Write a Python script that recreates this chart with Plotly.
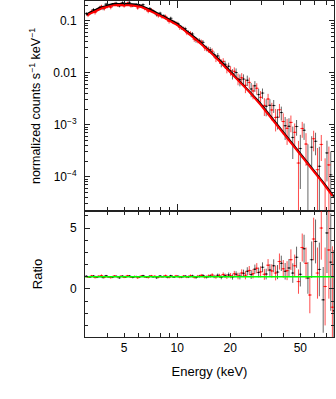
#  Plotly
import plotly.graph_objects as go
from   plotly.subplots     import make_subplots


#  FPMA bin centres (keV)
energy_a = [ 3.05, 3.2, 3.35, 3.5, 3.65, 3.8, 3.95, 4.1, 4.3, 4.5,
             4.7, 4.9, 5.1, 5.35, 5.6, 5.85, 6.1, 6.4, 6.7, 7.0,
             7.3, 7.65, 8.0, 8.4, 8.8, 9.2, 9.6, 10.1, 10.6, 11.1,
             11.6, 12.2, 12.8, 13.4, 14.0, 14.7, 15.4, 16.2, 17.0, 17.8,
             18.7, 19.6, 20.6, 21.6, 22.7, 23.8, 25.0, 26.3, 27.6, 29.0,
             30.5, 32.0, 33.6, 35.3, 37.1, 39.0, 41.0, 43.1, 45.3, 47.6,
             50.0, 52.5, 55.2, 58.0, 61.0, 64.1, 67.4, 70.8, 74.4, 77.5 ]

#  FPMB bin centres (keV)
energy_b = [ 3.12, 3.27, 3.42, 3.57, 3.72, 3.87, 4.02, 4.2, 4.4, 4.6,
             4.8, 5.0, 5.22, 5.47, 5.72, 5.97, 6.25, 6.55, 6.85, 7.15,
             7.47, 7.82, 8.2, 8.6, 9.0, 9.4, 9.85, 10.35, 10.85, 11.35,
             11.9, 12.5, 13.1, 13.7, 14.35, 15.05, 15.8, 16.6, 17.4, 18.25,
             19.15, 20.1, 21.1, 22.15, 23.25, 24.4, 25.65, 26.95, 28.3, 29.75,
             31.25, 32.8, 34.45, 36.2, 38.05, 40.0, 42.05, 44.2, 46.45, 48.8,
             51.25, 53.85, 56.6, 59.5, 62.55, 65.75, 69.1, 72.6, 76.0 ]

#  Folded model for FPMA (counts s^-1 keV^-1)
model_a = [ 0.132, 0.1435, 0.155, 0.167, 0.1775, 0.185, 0.193, 0.201, 0.2095, 0.211,
            0.212, 0.213, 0.214, 0.211, 0.207, 0.204, 0.200, 0.187, 0.176, 0.165,
            0.154, 0.142, 0.132, 0.1216, 0.1125, 0.1033, 0.0948, 0.0853, 0.0758, 0.0670,
            0.0596, 0.0520, 0.0455, 0.0397, 0.0349, 0.0303, 0.0261, 0.0220, 0.0188, 0.0161,
            0.0135, 0.01156, 0.00975, 0.00834, 0.00701, 0.00589, 0.00494, 0.00412, 0.00345, 0.00281,
            0.00228, 0.00186, 0.00152, 0.00123, 0.00101, 8.16e-4, 6.61e-4, 5.41e-4, 4.38e-4, 3.55e-4,
            2.90e-4, 2.37e-4, 1.91e-4, 1.54e-4, 1.23e-4, 9.9e-5, 7.8e-5, 6.24e-5, 4.94e-5, 4.12e-5 ]

#  Folded model for FPMB (counts s^-1 keV^-1)
model_b = [ 0.1307, 0.1417, 0.1528, 0.1636, 0.1722, 0.1795, 0.1871, 0.1950, 0.1997, 0.2009,
            0.2019, 0.2028, 0.2019, 0.1985, 0.1952, 0.1919, 0.1837, 0.1723, 0.1619, 0.1514,
            0.1405, 0.1301, 0.1204, 0.1111, 0.1024, 0.0940, 0.0854, 0.0764, 0.0677, 0.0600,
            0.0529, 0.0462, 0.0404, 0.0354, 0.0309, 0.0267, 0.0228, 0.0193, 0.0165, 0.0140,
            0.01187, 0.01009, 0.00857, 0.00726, 0.00610, 0.00512, 0.00429, 0.00358, 0.00296, 0.00240,
            0.00196, 0.00160, 0.00130, 0.00106, 8.62e-4, 6.98e-4, 5.68e-4, 4.62e-4, 3.75e-4, 3.05e-4,
            2.49e-4, 2.02e-4, 1.63e-4, 1.31e-4, 1.05e-4, 8.35e-5, 6.63e-5, 5.27e-5, 4.29e-5 ]

#  Data / model ratios
ratio_a = [ 1.04, 0.97, 1.06, 0.95, 1.02, 0.93, 1.08, 0.99, 0.96, 1.03,
            0.91, 1.05, 0.98, 1.07, 0.94, 1.01, 0.97, 1.09, 0.96, 1.04,
            0.99, 0.92, 1.06, 1.02, 0.95, 1.08, 0.98, 1.03, 0.97, 1.05,
            0.99, 1.07, 0.94, 1.04, 1.10, 0.97, 1.06, 1.02, 1.12, 0.95,
            1.08, 1.15, 0.98, 1.21, 1.05, 1.28, 1.45, 1.18, 1.62, 1.35,
            1.78, 1.22, 1.55, 1.90, 1.38, 2.10, 1.45, 1.72, 1.30, 2.60,
            1.20, 3.30, 0.90, 2.40, 3.90, 1.60, -0.90, 4.60, 2.20, -1.80 ]

ratio_b = [ 0.98, 1.07, 0.94, 1.03, 1.10, 0.96, 1.01, 0.93, 1.06, 0.99,
            1.04, 0.95, 1.08, 0.97, 1.02, 0.92, 1.05, 1.00, 0.94, 1.07,
            1.03, 0.96, 0.99, 1.09, 0.95, 1.02, 1.06, 0.97, 1.04, 0.98,
            1.08, 0.96, 1.03, 1.11, 0.98, 1.05, 1.14, 0.99, 1.07, 1.18,
            1.02, 1.09, 1.24, 1.06, 1.31, 1.12, 1.52, 1.25, 1.70, 1.40,
            1.20, 1.95, 1.48, 1.30, 2.25, 1.65, 1.50, 2.40, 1.90, 0.60,
            3.40, 2.10, -0.50, 4.10, 1.30, 5.00, 0.20, 3.20, -1.50 ]

#  1-sigma errors on the ratios
err_a = [ 0.07, 0.07, 0.07, 0.07, 0.07, 0.07, 0.07, 0.07, 0.07, 0.07,
          0.06, 0.06, 0.06, 0.06, 0.06, 0.06, 0.06, 0.07, 0.07, 0.07,
          0.07, 0.07, 0.07, 0.08, 0.08, 0.08, 0.08, 0.09, 0.09, 0.09,
          0.10, 0.10, 0.11, 0.11, 0.12, 0.12, 0.13, 0.14, 0.15, 0.16,
          0.18, 0.20, 0.22, 0.24, 0.27, 0.30, 0.33, 0.36, 0.38, 0.40,
          0.40, 0.44, 0.48, 0.53, 0.58, 0.63, 0.68, 0.74, 0.80, 0.87,
          1.00, 1.15, 1.30, 1.50, 1.80, 2.20, 2.70, 3.30, 4.00, 5.00 ]

err_b = [ 0.08, 0.08, 0.08, 0.08, 0.08, 0.08, 0.08, 0.08, 0.07, 0.07,
          0.07, 0.07, 0.07, 0.07, 0.07, 0.07, 0.07, 0.08, 0.08, 0.08,
          0.08, 0.08, 0.08, 0.09, 0.09, 0.09, 0.09, 0.10, 0.10, 0.10,
          0.11, 0.11, 0.12, 0.12, 0.13, 0.14, 0.15, 0.16, 0.17, 0.18,
          0.20, 0.22, 0.24, 0.27, 0.30, 0.33, 0.36, 0.39, 0.42, 0.45,
          0.45, 0.50, 0.55, 0.60, 0.66, 0.72, 0.78, 0.85, 0.92, 1.00,
          1.15, 1.30, 1.50, 1.75, 2.10, 2.60, 3.20, 4.00, 5.00 ]

#  Tick labels
x_tickvals = [ 5, 10, 20, 50 ]
x_minor    = [ 3, 4, 6, 7, 8, 9, 30, 40, 60, 70 ]
y_tickvals = [ 1e-4, 1e-3, 0.01, 0.1 ]
y_ticktext = [ '10<sup>\u22124</sup>', '10<sup>\u22123</sup>', '0.01', '0.1' ]


#  Spectra are model x ratio
counts_a = [ m * r for m, r in zip( model_a, ratio_a ) ]
counts_b = [ m * r for m, r in zip( model_b, ratio_b ) ]
cerr_a   = [ m * e for m, e in zip( model_a, err_a ) ]
cerr_b   = [ m * e for m, e in zip( model_b, err_b ) ]

BLACK = 'black'
RED   = 'red'
AXIS  = '#222'
FONT  = 'Liberation Sans, Arial, sans-serif'

fig = make_subplots( rows = 2, cols = 1, shared_xaxes = True,
                     vertical_spacing = 0, row_heights = [0.625, 0.375] )

def add_data( x, y, err, color, ebar_color, row ):
    fig.add_trace( go.Scatter( x = x, y = y, mode = 'markers',
                               marker = dict( color = color, size = 1.5 ),
                               error_y = dict( type = 'data', array = err, width = 0,
                                               thickness = 1, color = ebar_color ),
                               error_x = dict( type = 'percent', value = 2.4, width = 0,
                                               thickness = 1, color = ebar_color ),
                               showlegend = False, hoverinfo = 'skip' ),
                   row = row, col = 1 )

#  Top panel: spectra and model
add_data( energy_a, counts_a, cerr_a, BLACK, 'rgba(0,0,0,0.6)',   1 )
add_data( energy_b, counts_b, cerr_b, RED,   'rgba(255,0,0,0.7)', 1 )

fig.add_trace( go.Scatter( x = energy_a, y = model_a, mode = 'lines',
                           line = dict( color = BLACK, width = 2 ),
                           showlegend = False, hoverinfo = 'skip' ), row = 1, col = 1 )
fig.add_trace( go.Scatter( x = energy_b, y = model_b, mode = 'lines',
                           line = dict( color = RED, width = 2 ),
                           showlegend = False, hoverinfo = 'skip' ), row = 1, col = 1 )

#  Bottom panel: ratios
add_data( energy_a, ratio_a, err_a, BLACK, 'rgba(0,0,0,0.6)',   2 )
add_data( energy_b, ratio_b, err_b, RED,   'rgba(255,0,0,0.7)', 2 )

fig.add_trace( go.Scatter( x = [2.5, 90], y = [1, 1], mode = 'lines',
                           line = dict( color = '#00ff00', width = 1.5 ),
                           showlegend = False, hoverinfo = 'skip' ), row = 2, col = 1 )

axis_common = dict( showline = True, linecolor = AXIS, linewidth = 1, mirror = 'allticks',
                    ticks = 'inside', tickcolor = AXIS, showgrid = False, zeroline = False,
                    tickfont = dict( family = FONT, size = 12, color = 'black' ) )

y_minor = [ d * 10 ** p for p in range( -5, 0 ) for d in range( 2, 10 ) ]

fig.update_xaxes( type = 'log', range = [0.477, 1.890], **axis_common )
fig.update_xaxes( tickvals = [10], ticklen = 7, showticklabels = False,
                  minor = dict( tickvals = x_minor + [5, 20, 50], ticklen = 4, ticks = 'inside',
                                tickcolor = AXIS ),
                  row = 1, col = 1 )
fig.update_xaxes( tickvals = x_tickvals, ticktext = [str( v ) for v in x_tickvals], ticklen = 4,
                  ticklabelstandoff = 0,
                  minor = dict( tickvals = x_minor, ticklen = 4, ticks = 'inside', tickcolor = AXIS ),
                  title = dict( text = 'Energy (keV)', font = dict( family = FONT, size = 13, color = 'black' ),
                                standoff = 12 ),
                  row = 2, col = 1 )

fig.update_yaxes( **axis_common )
fig.update_yaxes( type = 'log', range = [-4.66, -0.62],
                  tickvals = y_tickvals, ticktext = y_ticktext, ticklen = 5, ticklabelstandoff = 5,
                  minor = dict( tickvals = y_minor, ticklen = 3, ticks = 'inside', tickcolor = AXIS ),
                  title = dict( text = 'normalized counts s<sup>\u22121</sup> keV<sup>\u22121</sup>',
                                font = dict( family = FONT, size = 12.5, color = 'black' ), standoff = 9 ),
                  row = 1, col = 1 )
fig.update_yaxes( range = [-3.95, 6.4], tickvals = [0, 5], ticklen = 5, ticklabelstandoff = 5,
                  minor = dict( tickvals = [-3, -2, -1, 1, 2, 3, 4, 6], ticklen = 3, ticks = 'inside',
                                tickcolor = AXIS ),
                  title = dict( text = 'Ratio', font = dict( family = FONT, size = 13, color = 'black' ),
                                standoff = 24 ),
                  row = 2, col = 1 )

fig.update_layout( width = 336, height = 399,
                   margin = dict( l = 85, r = 2, t = 1, b = 62, autoexpand = False ),
                   paper_bgcolor = 'white', plot_bgcolor = 'white',
                   font = dict( family = FONT, color = 'black' ) )

fig.write_html( 'out.html', config = { 'displayModeBar': False },
                post_script = "document.body.style.margin = '0px';" )
